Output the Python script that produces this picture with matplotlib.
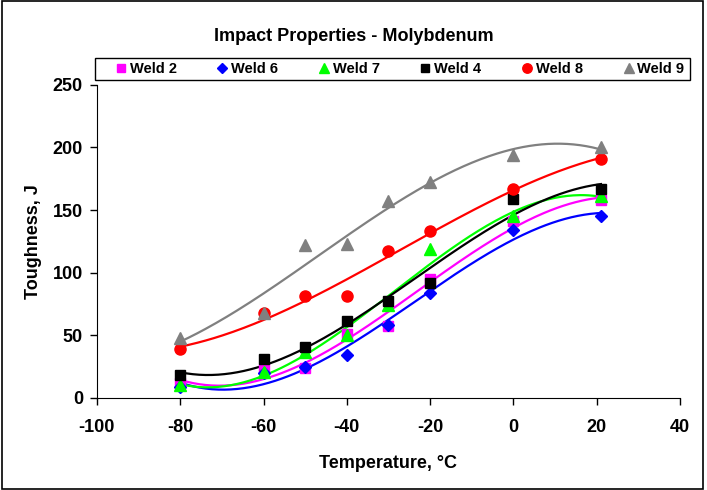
import numpy as np
import matplotlib.pyplot as plt
from matplotlib.patches import Rectangle

plt.rcParams['font.family'] = ['Liberation Sans', 'DejaVu Sans']
plt.rcParams['font.weight'] = 'bold'
plt.rcParams['axes.unicode_minus'] = False

temps = [-80, -60, -50, -40, -30, -20, 0, 21]

weld2 = [12, 23, 24, 51, 57, 95, 141, 158]
weld6 = [9, 20, 25, 34, 58, 84, 134, 145]
weld7 = [10, 21, 37, 50, 74, 119, 145, 161]
weld4 = [18, 31, 41, 61, 77, 92, 159, 167]
weld8 = [39, 68, 81, 81, 117, 133, 167, 191]
weld9 = [48, 68, 122, 123, 157, 172, 194, 200]

series = [
    ('Weld 2', weld2, '#ff00ff', 's', 7),
    ('Weld 6', weld6, '#0000ff', 'D', 6),
    ('Weld 7', weld7, '#00ff00', '^', 8),
    ('Weld 4', weld4, '#000000', 's', 7),
    ('Weld 8', weld8, '#ff0000', 'o', 8),
    ('Weld 9', weld9, '#808080', '^', 8),
]

W, H = 707, 490
fig = plt.figure(figsize=(W / 100, H / 100), dpi=100)
ax = fig.add_axes([0.137, 0.188, 0.825, 0.639])

xs = np.linspace(min(temps), max(temps), 200)
handles = []
for name, vals, color, mk, ms in series:
    # Excel-style 3rd order polynomial trend line
    coef = np.polyfit(temps, vals, 3)
    ax.plot(xs, np.polyval(coef, xs), color=color, lw=1.6, zorder=2)
    h, = ax.plot(temps, vals, linestyle='none', marker=mk, ms=ms,
                 color=color, markeredgecolor=color, label=name, zorder=3)
    handles.append(h)

ax.set_xlim(-100, 40)
ax.set_ylim(0, 250)
ax.set_xticks(range(-100, 41, 20))
ax.set_yticks(range(0, 251, 50))
ax.spines['top'].set_visible(False)
ax.spines['right'].set_visible(False)
ax.tick_params(direction='out', length=5, labelsize=13, width=1, pad=5)
ax.tick_params(axis='x', pad=10)
for lab in ax.get_xticklabels() + ax.get_yticklabels():
    lab.set_fontweight('bold')
ax.set_xlabel('Temperature, °C', fontsize=13, fontweight='bold', labelpad=14)
ax.set_ylabel('Toughness, J', fontsize=13, fontweight='bold', labelpad=8)

fig.text(0.5, 0.925, 'Impact Properties - Molybdenum', ha='center', va='center',
         fontsize=13, fontweight='bold')

# legend entries without frame, box drawn separately
leg = fig.legend(handles=handles, loc='lower left', ncol=6, mode='expand',
                 bbox_to_anchor=(110 / W, 1 - 80 / H, 578 / W, 22 / H),
                 fontsize=10.5, frameon=False, handletextpad=0.1,
                 borderpad=0.25, handlelength=1.0, borderaxespad=0,
                 markerscale=0.85)
for t in leg.get_texts():
    t.set_fontweight('bold')
fig.patches.append(Rectangle((95 / W, 1 - 80 / H), 595 / W, 22 / H,
                             transform=fig.transFigure, fill=False,
                             edgecolor='black', lw=1))

fig.patches.append(Rectangle((0.003, 0.003), 0.992, 0.994, transform=fig.transFigure,
                             fill=False, edgecolor='black', lw=1.2))

fig.savefig('out.png', dpi=100)
